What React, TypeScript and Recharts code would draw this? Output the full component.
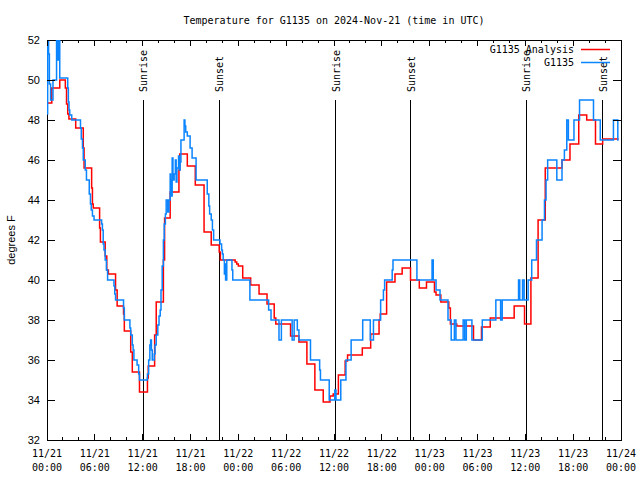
import React from "react";
import {
  LineChart,
  Line,
  XAxis,
  YAxis,
  ReferenceLine,
  ReferenceArea,
  Legend,
} from "recharts";

// hours since 11/21 00:00 UTC, and temperature in degrees F
const analysisHours = [
  0, 0.6, 1.6, 2.3, 2.45, 2.6, 2.75, 3.6, 4.55, 4.65, 5.6, 5.7, 5.8, 6.6, 6.7,
  7.3, 7.5, 7.7, 8.6, 8.8, 9.6, 9.7, 10.5, 10.7, 11.6, 12.6, 12.7, 13.5, 13.7,
  14.6, 14.75, 15.45, 16.55, 16.65, 17.6, 18.6, 19.7, 20.6, 21.6, 21.75, 23.6,
  23.8, 24.0, 24.55, 25.55, 26.6, 27.6, 28.5, 28.7, 30.55, 31.6, 32.6, 33.6,
  34.65, 35.5, 35.9, 36.55, 37.4, 37.7, 39.55, 40.6, 41.65, 41.8, 42.6, 43.65,
  44.55, 45.6, 46.7, 47.6, 48.6, 48.8, 49.4, 50.4, 50.6, 51.4, 53.5, 54.5,
  55.6, 58.6, 59.9, 60.7, 61.6, 62.5, 64.6, 65.6, 66.7, 67.7, 68.8, 69.7, 71.7,
];
const analysisTemps = [
  48.85, 49.6, 50.0, 49.6, 48.8, 48.3, 48.05, 47.6, 46.6, 45.6, 44.6, 43.8,
  43.6, 42.6, 41.9, 41.2, 40.5, 40.3, 39.5, 38.7, 38.3, 37.45, 36.4, 35.4,
  34.4, 35.1, 35.7, 37.25, 38.9, 41.0, 43.1, 44.4, 45.5, 46.3, 45.7, 44.75,
  42.4, 41.75, 41.4, 41.0, 40.9, 40.8, 40.7, 40.1, 39.75, 39.3, 38.8, 38.1,
  37.8, 37.2, 36.9, 35.8, 34.5, 33.9, 34.2, 34.3, 35.25, 35.95, 36.25, 36.6,
  37.3, 38.0, 38.3, 39.9, 40.3, 40.6, 40.0, 39.6, 39.9, 39.4, 39.25, 38.9,
  38.6, 37.8, 37.7, 37.0, 37.65, 38.1, 38.7, 37.8, 40.1, 43.0, 45.6, 46.0,
  46.8, 48.25, 48.0, 46.8, 47.05, 47.05,
];

const stationHours = [
  0, 0.08, 0.2, 0.3, 0.45, 0.75, 1.2, 1.35, 1.45, 1.6, 2.6, 2.68, 2.76, 2.85,
  3.1, 4.2, 4.3, 4.45, 4.55, 4.8, 4.95, 5.3, 5.45, 5.55, 5.7, 5.9, 6.85, 6.95,
  7.05, 7.15, 7.3, 7.45, 7.6, 8.4, 8.5, 8.6, 9.6, 9.7, 10.4, 10.5, 10.7, 10.8,
  10.9, 11.3, 11.5, 11.6, 12.6, 12.75, 12.9, 13.0, 13.1, 13.2, 13.45, 13.55,
  13.7, 13.9, 14.05, 14.2, 14.3, 14.45, 14.6, 14.7, 14.85, 14.95, 15.15, 15.3,
  15.45, 15.5, 15.6, 15.7, 15.8, 15.95, 16.1, 16.2, 16.3, 16.5, 16.6, 16.7,
  16.8, 17.2, 17.3, 17.4, 17.6, 17.95, 18.2, 18.7, 20.1, 20.3, 20.4, 20.6,
  20.75, 20.9, 21.7, 21.9, 22.0, 22.1, 22.25, 22.35, 22.4, 22.55, 23.2, 23.3,
  25.45, 27.8, 28.1, 29.1, 29.4, 30.75, 31.0, 31.4, 31.6, 33.05, 34.2, 34.3,
  35.4, 36.1, 36.25, 36.85, 37.5, 38.15, 39.6, 40.55, 40.95, 41.85, 42.2,
  42.35, 43.3, 43.4, 46.4, 48.3, 48.45, 48.8, 49.3, 50.3, 50.7, 51.1, 51.3,
  52.2, 52.4, 52.6, 53.3, 54.6, 56.3, 56.9, 57.1, 59.15, 59.3, 59.65, 59.85,
  60.35, 60.8, 61.4, 62.1, 62.4, 62.6, 62.8, 63.95, 64.6, 64.9, 65.2, 65.4,
  66.1, 66.8, 68.55, 69.4, 71.05, 71.6, 71.7,
];
const stationTemps = [
  48.3, 52.5, 51.3, 49.8, 49.0, 50.0, 52.5, 51.0, 52.5, 50.1, 49.6, 48.9, 48.5,
  48.25, 48.0, 47.6, 47.05, 46.6, 46.0, 45.5, 45.0, 44.3, 43.8, 43.5, 43.2,
  43.0, 42.8, 42.5, 41.8, 41.5, 41.0, 40.5, 40.0, 39.7, 39.3, 39.0, 38.6, 38.0,
  37.6, 37.25, 36.75, 36.5, 36.0, 35.75, 35.3, 35.0, 35.3, 36.0, 36.75, 37.0,
  36.5, 36.0, 36.3, 36.75, 37.25, 37.75, 38.2, 38.5, 39.5, 40.7, 42.0, 42.8,
  43.3, 44.0, 43.4, 44.0, 45.3, 45.0, 44.2, 46.1, 45.0, 45.3, 46.0, 44.9, 45.6,
  46.2, 45.5, 45.9, 47.0, 48.0, 47.7, 47.4, 47.2, 46.6, 46.1, 45.0, 44.3, 43.7,
  43.3, 43.0, 42.5, 42.0, 41.8, 41.5, 41.3, 41.0, 40.3, 40.8, 40.0, 41.0, 40.5,
  40.0, 39.0, 38.5, 38.0, 37.0, 38.0, 37.0, 38.0, 37.5, 37.0, 36.0, 35.5, 35.0,
  34.0, 34.5, 34.0, 35.0, 36.0, 37.0, 38.0, 37.0, 38.0, 39.0, 39.5, 40.0, 40.5,
  41.0, 40.0, 41.0, 40.0, 39.5, 39.0, 38.0, 37.0, 38.0, 37.0, 38.0, 37.0, 38.0,
  37.0, 38.0, 39.0, 38.0, 39.0, 40.0, 39.0, 40.0, 39.0, 40.0, 41.0, 42.0, 43.0,
  44.0, 45.0, 46.0, 45.0, 46.0, 46.5, 48.0, 47.0, 48.0, 49.0, 48.0, 47.0, 48.0,
  47.0, 47.0,
];

const seriesNames = ["G1135 Analysis", "G1135"];
const seriesColors = ["#ff0000", "#0a84ff"];

const sunHours = [12.1, 21.6, 36.2, 45.6, 60.1, 69.7];
const sunNames = ["Sunrise", "Sunset", "Sunrise", "Sunset", "Sunrise", "Sunset"];

const tempTicks = [32, 34, 36, 38, 40, 42, 44, 46, 48, 50, 52];
const hourTicks = [
  0, 2, 4, 6, 8, 10, 12, 14, 16, 18, 20, 22, 24, 26, 28, 30, 32, 34, 36, 38,
  40, 42, 44, 46, 48, 50, 52, 54, 56, 58, 60, 62, 64, 66, 68, 70, 72,
];

const analysisData = analysisHours.map((t, i) => ({ t, temp: analysisTemps[i] }));
const stationData = stationHours.map((t, i) => ({ t, temp: stationTemps[i] }));

const W = 640;
const H = 480;
const margin = { top: 40, right: 19, bottom: 0, left: 7 };
const Y_W = 40;
const X_H = 40;
const PLOT_W = W - margin.left - margin.right - Y_W;
const PLOT_H = H - margin.top - margin.bottom - X_H;

const MONO = "'DejaVu Sans Mono', monospace";
const SANS = "'Liberation Sans', Arial, sans-serif";

function pad(n: number) {
  return n < 10 ? "0" + n : "" + n;
}

function TimeTick({ x, y, payload }: any) {
  const v = payload.value;
  const major = v % 6 === 0;
  const len = major ? 6 : 3;
  const day = 21 + Math.floor(v / 24);
  const hh = v % 24;
  return (
    <g>
      <line x1={x} y1={y} x2={x} y2={y - len} stroke="#000" shapeRendering="crispEdges" />
      <line
        x1={x}
        y1={y - PLOT_H}
        x2={x}
        y2={y - PLOT_H + len}
        stroke="#000"
        shapeRendering="crispEdges"
      />
      {major && (
        <text x={x} y={y + 17} textAnchor="middle" fontFamily={MONO} fontSize={10} fill="#000">
          {"11/" + day}
        </text>
      )}
      {major && (
        <text x={x} y={y + 31} textAnchor="middle" fontFamily={MONO} fontSize={10} fill="#000">
          {pad(hh) + ":00"}
        </text>
      )}
    </g>
  );
}

function TempTick({ x, y, payload }: any) {
  return (
    <g>
      <line x1={x} y1={y} x2={x + 8} y2={y} stroke="#000" shapeRendering="crispEdges" />
      <line
        x1={x + PLOT_W}
        y1={y}
        x2={x + PLOT_W - 8}
        y2={y}
        stroke="#000"
        shapeRendering="crispEdges"
      />
      <text x={x - 7} y={y + 4} textAnchor="end" fontFamily={SANS} fontSize={11} fill="#000">
        {payload.value}
      </text>
    </g>
  );
}

const sunLabel = (text: string) => (props: any) => {
  const vb = props.viewBox || {};
  const x = vb.x ?? vb.x1;
  const y = vb.y ?? Math.min(vb.y1, vb.y2);
  return (
    <text
      transform={`translate(${x + 4}, ${y - 8}) rotate(-90)`}
      fontFamily={MONO}
      fontSize={10}
      fill="#000"
    >
      {text}
    </text>
  );
};

function LegendBox({ payload }: any) {
  // keep plotting order, not alphabetical
  const items = [...(payload || [])].sort(
    (a: any, b: any) => seriesNames.indexOf(a.value) - seriesNames.indexOf(b.value)
  );
  return (
    <div style={{ fontFamily: MONO, fontSize: 10, color: "#000" }}>
      {items.map((p: any) => (
        <div
          key={p.value}
          style={{
            display: "flex",
            justifyContent: "flex-end",
            alignItems: "center",
            height: 13,
          }}
        >
          <span style={{ marginRight: 7, lineHeight: "13px" }}>{p.value}</span>
          <svg width={29} height={13}>
            <line x1={0} x2={29} y1={6.5} y2={6.5} stroke={p.color} strokeWidth={1.5} />
          </svg>
        </div>
      ))}
    </div>
  );
}

export default function App() {
  return (
    <div
      style={{
        position: "absolute",
        left: 0,
        top: 0,
        width: W,
        height: H,
        background: "#fff",
      }}
    >
      <div
        style={{
          position: "absolute",
          top: 15,
          left: margin.left + Y_W,
          width: PLOT_W,
          textAlign: "center",
          fontFamily: MONO,
          fontSize: 10,
          lineHeight: "12px",
          color: "#000",
        }}
      >
        Temperature for G1135 on 2024-Nov-21 (time in UTC)
      </div>

      <LineChart width={W} height={H} margin={margin}>
        <XAxis
          dataKey="t"
          type="number"
          domain={[0, 72]}
          ticks={hourTicks}
          interval={0}
          allowDataOverflow
          height={X_H}
          axisLine={false}
          tickLine={false}
          tickSize={0}
          tickMargin={0}
          tick={<TimeTick />}
        />
        <YAxis
          type="number"
          domain={[32, 52]}
          ticks={tempTicks}
          interval={0}
          allowDataOverflow
          width={Y_W}
          axisLine={false}
          tickLine={false}
          tickSize={0}
          tickMargin={0}
          tick={<TempTick />}
          label={{
            value: "degrees F",
            angle: -90,
            position: "insideLeft",
            offset: 4,
            style: { textAnchor: "middle" },
            fontFamily: SANS,
            fontSize: 11,
            fill: "#000",
          }}
        />

        <ReferenceArea
          x1={0}
          x2={72}
          y1={32}
          y2={52}
          fill="none"
          fillOpacity={0}
          stroke="#000"
          strokeWidth={1}
          shapeRendering="crispEdges"
        />

        {sunHours.map((h, i) => (
          <ReferenceLine
            key={"sun" + i}
            segment={[
              { x: h, y: 32 },
              { x: h, y: 49 },
            ]}
            stroke="#000"
            strokeWidth={1}
            shapeRendering="crispEdges"
            label={sunLabel(sunNames[i])}
          />
        ))}

        <Line
          data={analysisData}
          dataKey="temp"
          name={seriesNames[0]}
          type="stepAfter"
          stroke={seriesColors[0]}
          strokeWidth={1.5}
          dot={false}
          activeDot={false}
          isAnimationActive={false}
        />
        <Line
          data={stationData}
          dataKey="temp"
          name={seriesNames[1]}
          type="stepAfter"
          stroke={seriesColors[1]}
          strokeWidth={1.5}
          dot={false}
          activeDot={false}
          isAnimationActive={false}
        />

        <Legend
          layout="horizontal"
          verticalAlign="middle"
          align="center"
          content={<LegendBox />}
          wrapperStyle={{ top: 43, right: 30, left: "auto", width: "auto" }}
        />
      </LineChart>
    </div>
  );
}
